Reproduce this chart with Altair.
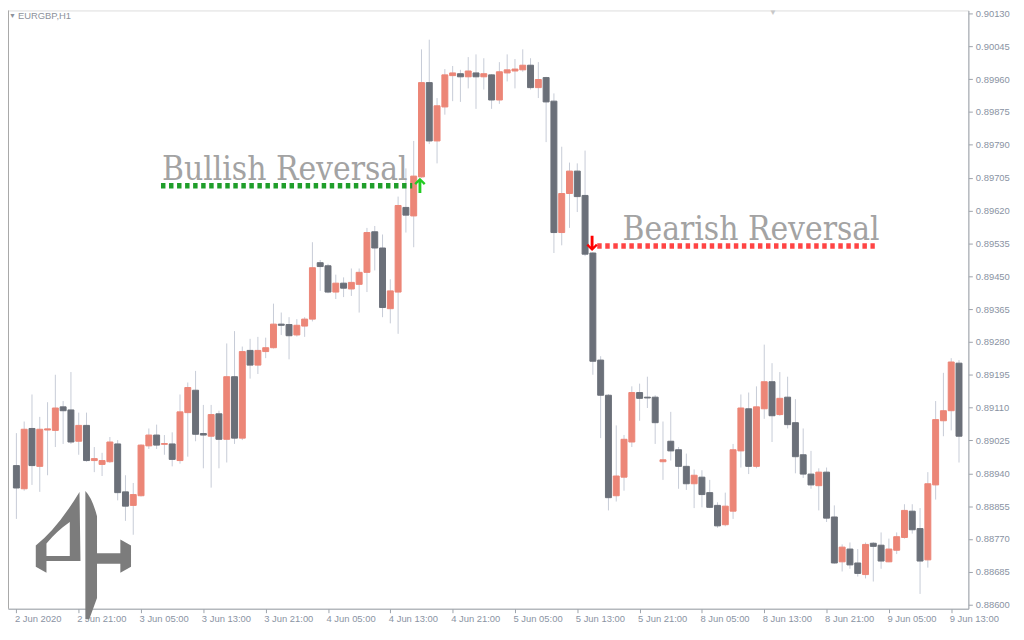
import altair as alt
import pandas as pd

# ---------------- data (EURGBP, H1) ----------------
open_ = [0.88960, 0.88900, 0.89056, 0.88958, 0.89052, 0.89051, 0.89112, 0.89104, 0.89023, 0.89064,
         0.88973, 0.88963, 0.88970, 0.89016, 0.88892, 0.88857, 0.88882, 0.89011, 0.89039, 0.89015,
         0.89016, 0.88973, 0.89097, 0.89155, 0.89043, 0.89036, 0.89094, 0.89028, 0.89190, 0.89031,
         0.89258, 0.89220, 0.89255, 0.89265, 0.89326, 0.89325, 0.89298, 0.89321, 0.89339, 0.89485,
         0.89477, 0.89409, 0.89432, 0.89417, 0.89429, 0.89460, 0.89565, 0.89523, 0.89366, 0.89409,
         0.89628, 0.89606, 0.89707, 0.89951, 0.89800, 0.89888, 0.89969, 0.89974, 0.89966, 0.89976,
         0.89966, 0.89971, 0.89906, 0.89976, 0.89981, 0.89984, 0.89996, 0.89938, 0.89964, 0.89903,
         0.89563, 0.89664, 0.89722, 0.89659, 0.89510, 0.89233, 0.89142, 0.88882, 0.88930, 0.89021,
         0.89149, 0.89137, 0.89137, 0.88970, 0.89023, 0.89001, 0.88958, 0.88913, 0.88930, 0.88890,
         0.88857, 0.88807, 0.88842, 0.88998, 0.89107, 0.88958, 0.89107, 0.89177, 0.89092, 0.89137,
         0.89071, 0.88988, 0.88938, 0.88908, 0.88943, 0.88827, 0.88711, 0.88744, 0.88708, 0.88678,
         0.88759, 0.88754, 0.88711, 0.88741, 0.88774, 0.88842, 0.88797, 0.88716, 0.88910, 0.89076,
         0.89102, 0.89225]
high = [0.89044, 0.89074, 0.89144, 0.89086, 0.89124, 0.89195, 0.89127, 0.89202, 0.89097, 0.89097,
        0.89008, 0.88993, 0.89034, 0.89026, 0.88935, 0.88915, 0.89015, 0.89056, 0.89066, 0.89039,
        0.89046, 0.89144, 0.89175, 0.89205, 0.89117, 0.89117, 0.89102, 0.89276, 0.89308, 0.89268,
        0.89288, 0.89293, 0.89291, 0.89379, 0.89356, 0.89344, 0.89339, 0.89344, 0.89538, 0.89492,
        0.89482, 0.89454, 0.89447, 0.89470, 0.89470, 0.89575, 0.89580, 0.89558, 0.89442, 0.89656,
        0.89729, 0.89800, 0.90037, 0.90062, 0.89911, 0.89986, 0.89994, 0.89984, 0.90017, 0.90024,
        0.90014, 0.89973, 0.90004, 0.90024, 0.90012, 0.90037, 0.90014, 0.90004, 0.89966, 0.89923,
        0.89785, 0.89744, 0.89742, 0.89775, 0.89512, 0.89243, 0.89145, 0.89064, 0.89039, 0.89165,
        0.89172, 0.89190, 0.89142, 0.89074, 0.89099, 0.89008, 0.88991, 0.88950, 0.88948, 0.88923,
        0.88865, 0.88890, 0.89016, 0.89144, 0.89149, 0.89165, 0.89273, 0.89225, 0.89202, 0.89190,
        0.89132, 0.89056, 0.88998, 0.88953, 0.88955, 0.88857, 0.88756, 0.88761, 0.88744, 0.88761,
        0.88762, 0.88787, 0.88771, 0.88787, 0.88860, 0.88860, 0.88850, 0.88943, 0.89127, 0.89200,
        0.89238, 0.89233]
low = [0.88822, 0.88895, 0.88910, 0.88892, 0.88935, 0.89008, 0.89016, 0.89016, 0.88988, 0.88970,
       0.88943, 0.88933, 0.88967, 0.88870, 0.88817, 0.88781, 0.88880, 0.89003, 0.89003, 0.88988,
       0.88958, 0.88965, 0.88983, 0.89023, 0.88953, 0.88903, 0.88953, 0.88968, 0.89016, 0.89026,
       0.89185, 0.89197, 0.89238, 0.89263, 0.89298, 0.89235, 0.89294, 0.89293, 0.89333, 0.89412,
       0.89406, 0.89391, 0.89396, 0.89399, 0.89356, 0.89409, 0.89465, 0.89344, 0.89328, 0.89301,
       0.89563, 0.89525, 0.89705, 0.89792, 0.89742, 0.89868, 0.89903, 0.89901, 0.89936, 0.89883,
       0.89933, 0.89883, 0.89896, 0.89954, 0.89936, 0.89979, 0.89933, 0.89911, 0.89797, 0.89510,
       0.89530, 0.89575, 0.89616, 0.89502, 0.89195, 0.89031, 0.88844, 0.88867, 0.88895, 0.89008,
       0.89076, 0.89109, 0.89016, 0.88923, 0.88973, 0.88900, 0.88897, 0.88850, 0.88852, 0.88850,
       0.88799, 0.88803, 0.88822, 0.88955, 0.88938, 0.88953, 0.89081, 0.89021, 0.89089, 0.89056,
       0.88940, 0.88928, 0.88900, 0.88844, 0.88814, 0.88706, 0.88686, 0.88693, 0.88673, 0.88668,
       0.88660, 0.88693, 0.88710, 0.88731, 0.88771, 0.88784, 0.88628, 0.88696, 0.88872, 0.89036,
       0.89051, 0.88968]
close = [0.88902, 0.89054, 0.88960, 0.89054, 0.89055, 0.89109, 0.89102, 0.89021, 0.89064, 0.88973,
         0.88978, 0.88973, 0.89021, 0.88890, 0.88855, 0.88885, 0.89013, 0.89039, 0.89013, 0.89017,
         0.88976, 0.89099, 0.89162, 0.89041, 0.89039, 0.89092, 0.89028, 0.89190, 0.89031, 0.89255,
         0.89220, 0.89258, 0.89265, 0.89326, 0.89323, 0.89296, 0.89323, 0.89339, 0.89472, 0.89475,
         0.89409, 0.89432, 0.89419, 0.89434, 0.89460, 0.89563, 0.89523, 0.89369, 0.89412, 0.89633,
         0.89608, 0.89709, 0.89951, 0.89800, 0.89891, 0.89971, 0.89976, 0.89966, 0.89981, 0.89966,
         0.89974, 0.89906, 0.89979, 0.89984, 0.89986, 0.89996, 0.89938, 0.89959, 0.89901, 0.89563,
         0.89664, 0.89722, 0.89656, 0.89507, 0.89230, 0.89142, 0.88877, 0.88933, 0.89028, 0.89149,
         0.89134, 0.89135, 0.89071, 0.88975, 0.88998, 0.88958, 0.88913, 0.88935, 0.88885, 0.88852,
         0.88804, 0.88855, 0.89001, 0.89109, 0.88958, 0.89112, 0.89177, 0.89089, 0.89134, 0.89066,
         0.88983, 0.88938, 0.88910, 0.88943, 0.88824, 0.88708, 0.88749, 0.88703, 0.88681, 0.88756,
         0.88751, 0.88713, 0.88744, 0.88776, 0.88844, 0.88794, 0.88713, 0.88913, 0.89079, 0.89102,
         0.89228, 0.89036]

time_ticks = [0, 8, 16, 24, 32, 40, 48, 56, 64, 72, 80, 88, 96, 104, 112, 120]
time_labels = ["2 Jun 2020", "2 Jun 21:00", "3 Jun 05:00", "3 Jun 13:00", "3 Jun 21:00",
               "4 Jun 05:00", "4 Jun 13:00", "4 Jun 21:00", "5 Jun 05:00", "5 Jun 13:00",
               "5 Jun 21:00", "8 Jun 05:00", "8 Jun 13:00", "8 Jun 21:00", "9 Jun 05:00",
               "9 Jun 13:00"]
price_ticks = [0.90130, 0.90045, 0.89960, 0.89875, 0.89790, 0.89705, 0.89620, 0.89535, 0.89450,
               0.89365, 0.89280, 0.89195, 0.89110, 0.89025, 0.88940, 0.88855, 0.88770, 0.88685,
               0.88600]

signal_names = ["Bullish Reversal", "Bearish Reversal"]
signal_level = [0.89684, 0.89528]
signal_start = [18.56, 74.56]
signal_end = [50.81, 110.19]
label_at = [18.69, 77.81]
label_price = [0.89699, 0.89545]
arrow_at = [51.8, 73.9]
arrow_price = [0.89685, 0.89535]

# ---------------- styling ----------------
UP = "#ec8677"
DOWN = "#6b7079"
WICK = "#c6cbd7"
AXIS = "#9da3ab"
LABEL = "#8a93a3"
SIG_LINE = ["#1f9e2a", "#ff4444"]
SIG_ARROW = ["#22cc22", "#ff0000"]
ARROW_UP = ("M0,-1L0.75,-0.28L0.52,-0.05L0.19,-0.42L0.19,1L-0.19,1L-0.19,-0.42"
            "L-0.52,-0.05L-0.75,-0.28Z")
ARROW_DOWN = ("M0,1L0.75,0.28L0.52,0.05L0.19,0.42L0.19,-1L-0.19,-1L-0.19,0.42"
              "L-0.52,0.05L-0.75,0.28Z")

XS = alt.Scale(domain=[-0.44115, 121.5672], nice=False, zero=False)
YS = alt.Scale(domain=[0.885897, 0.901377], nice=False, zero=False)

candles = pd.DataFrame({"i": list(range(len(open_))), "open": open_, "high": high,
                        "low": low, "close": close})

label_expr = "[" + ",".join("'%s'" % s for s in time_labels) + "][round(datum.value / 8)]"
x_axis = alt.Axis(values=time_ticks, labelExpr=label_expr, labelAlign="left", labelOffset=-2,
                  tickSize=4, tickColor=AXIS, domainColor=AXIS, labelColor=LABEL,
                  labelFont="Liberation Sans", labelFontSize=9.5, labelPadding=1,
                  labelFlush=False, labelOverlap=False, title=None, grid=False)
y_axis = alt.Axis(orient="right", values=price_ticks, format=".5f", tickSize=4,
                  tickColor=AXIS, domainColor=AXIS, labelColor=LABEL,
                  labelFont="Liberation Sans", labelFontSize=9.5, labelPadding=3,
                  labelFlush=False, labelOverlap=False, title=None, grid=False)


def xq(field):
    return alt.X(field, type="quantitative", scale=XS, axis=x_axis)


def yq(field):
    return alt.Y(field, type="quantitative", scale=YS, axis=y_axis)


body_color = alt.condition("datum.close >= datum.open", alt.value(UP), alt.value(DOWN))

wicks = alt.Chart(candles).mark_rule(color=WICK, strokeWidth=1).encode(
    x=xq("i"), y=yq("low"), y2="high:Q")
bodies = alt.Chart(candles).mark_bar(size=6, strokeWidth=1).encode(
    x=xq("i"), y=yq("open"), y2="close:Q", color=body_color, stroke=body_color)

sig = pd.DataFrame({"name": signal_names, "level": signal_level, "x0": signal_start,
                    "x1": signal_end, "lx": label_at, "ly": label_price,
                    "ax": arrow_at, "ay": arrow_price, "arrow": [ARROW_UP, ARROW_DOWN],
                    "lc": SIG_LINE, "ac": SIG_ARROW})
sig_lines = alt.Chart(sig).mark_rule(strokeWidth=5.5, strokeDash=[4.5, 3.6]).encode(
    x=xq("x0"), x2="x1:Q", y=yq("level"), color=alt.Color("lc:N", scale=None))
sig_text = alt.Chart(sig).mark_text(align="left", baseline="alphabetic",
                                    font="DejaVu Serif Condensed", fontSize=33.5,
                                    color="#a3a3a3").encode(
    x=xq("lx"), y=yq("ly"), text="name:N")
sig_arrows = alt.Chart(sig).mark_point(filled=True, size=230, opacity=1, strokeWidth=0).encode(
    x=xq("ax"), y=yq("ay"), shape=alt.Shape("arrow:N", scale=None),
    color=alt.Color("ac:N", scale=None))

# decorations (pixel placed)
logo_path = ("M0.030,-0.985Q0.134,-0.881,0.209,-0.597L0.209,-0.030L0.567,-0.030L0.567,-0.239"
             "L0.731,-0.149L0.731,0.179L0.567,0.269L0.567,0.134L0.209,0.134L0.209,0.657"
             "L0.090,0.985L0.030,0.985Z"
             "M-0.060,-0.970L-0.045,0.090L-0.567,0.090L-0.567,0.269L-0.731,0.179L-0.731,-0.149"
             "Q-0.403,-0.403,-0.060,-0.970Z"
             "M-0.567,-0.179L-0.567,0.015L-0.209,0.015L-0.209,-0.507Q-0.403,-0.373,-0.567,-0.179Z")
logo = alt.Chart(pd.DataFrame({"k": [0]})).mark_point(
    shape=logo_path, size=17245, filled=True, color="#7c7c7c", opacity=1, strokeWidth=0
).encode(x=alt.value(76), y=alt.value(549))

left_border = alt.Chart(pd.DataFrame({"k": [0]})).mark_rule(color="#a7a7a7").encode(
    x=alt.value(0.5), y=alt.value(0), y2=alt.value(603))
title_mark = alt.Chart(pd.DataFrame({"t": ["▼"]})).mark_text(
    align="left", baseline="middle", fontSize=7, color="#8d929b").encode(
    x=alt.value(1), y=alt.value(6), text="t:N")
title_text = alt.Chart(pd.DataFrame({"t": ["EURGBP,H1"]})).mark_text(
    align="left", baseline="middle", font="Liberation Sans", fontSize=9.5,
    color="#8d929b").encode(x=alt.value(10), y=alt.value(6), text="t:N")
shift_mark = alt.Chart(pd.DataFrame({"t": ["▼"]})).mark_text(
    align="center", baseline="top", fontSize=8, color="#c8c8c8").encode(
    x=alt.value(771), y=alt.value(-1), text="t:N")

chart = alt.layer(
    logo, left_border, wicks, bodies, sig_lines, sig_text, sig_arrows,
    title_mark, title_text, shift_mark
).properties(
    width=968, height=603,
    autosize=alt.AutoSizeParams(type="none"),
    padding={"left": 0, "top": 0, "right": 48, "bottom": 17},
).configure_view(stroke=None).configure_axis(labelOverlap=False).configure(background="white")

chart.save("out.html", embed_options={"renderer": "svg", "actions": False})
